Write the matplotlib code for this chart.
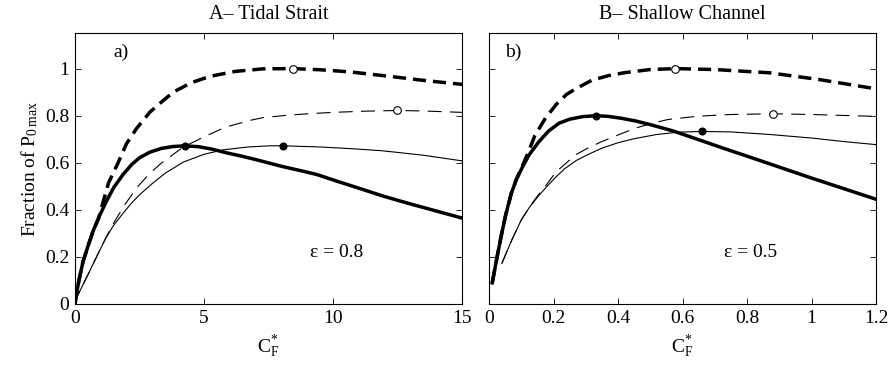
import matplotlib
matplotlib.use('Agg')
import matplotlib.pyplot as plt

plt.rcParams['font.family'] = ['Liberation Serif', 'DejaVu Serif']
plt.rcParams['mathtext.fontset'] = 'custom'
plt.rcParams['mathtext.rm'] = 'Liberation Serif'
plt.rcParams['mathtext.it'] = 'Liberation Serif:italic'
plt.rcParams['lines.scale_dashes'] = False

# ---- Panel A: Tidal Strait (eps = 0.8) ----
a_thick_solid_x = [0, 0.05, 0.15, 0.31, 0.5, 0.70, 0.95, 1.21, 1.5, 1.86, 2.2, 2.51, 2.9, 3.35, 3.8, 4.26,
                   4.8, 5.3, 5.88, 6.5, 7.2, 8.0, 8.8, 9.37, 10.2, 11.0, 11.95, 13.0, 14.0, 15]
a_thick_solid_y = [0, 0.04, 0.1, 0.18, 0.245, 0.31, 0.375, 0.435, 0.495, 0.55, 0.593, 0.622, 0.645, 0.661, 0.669, 0.672,
                   0.668, 0.658, 0.642, 0.627, 0.608, 0.585, 0.565, 0.55, 0.52, 0.492, 0.458, 0.425, 0.395, 0.365]
a_thick_dash_x = [0, 0.05, 0.15, 0.31, 0.5, 0.70, 0.9, 1.08, 1.3, 1.67, 1.99, 2.38, 2.9, 3.35, 3.81, 4.5, 5.23,
                  6.2, 7.29, 8.46, 9.5, 10.66, 12.2, 13.5, 15]
a_thick_dash_y = [0, 0.04, 0.1, 0.18, 0.245, 0.31, 0.36, 0.43, 0.515, 0.6, 0.68, 0.745, 0.815, 0.858, 0.9, 0.94, 0.967,
                  0.988, 0.999, 1.0, 0.995, 0.986, 0.967, 0.95, 0.933]
a_thin_solid_x = [0, 0.05, 0.3, 0.57, 0.9, 1.21, 1.5, 1.86, 2.2, 2.51, 3.03, 3.5, 4.2, 5.0, 5.75, 6.7, 7.56,
                  8.05, 9.5, 10.7, 11.9, 13.5, 15]
a_thin_solid_y = [0, 0.025, 0.08, 0.14, 0.215, 0.283, 0.335, 0.385, 0.43, 0.465, 0.515, 0.556, 0.603, 0.636, 0.655,
                  0.667, 0.672, 0.672, 0.667, 0.66, 0.651, 0.632, 0.608]
a_thin_dash_x = [0, 0.05, 0.3, 0.57, 0.9, 1.21, 1.5, 1.95, 2.4, 2.9, 3.35, 4.2, 5.0, 5.8, 6.78, 7.3, 8.07,
                 9.0, 10.0, 11.2, 12.47, 13.5, 15]
a_thin_dash_y = [0, 0.025, 0.08, 0.14, 0.215, 0.285, 0.345, 0.425, 0.495, 0.555, 0.599, 0.667, 0.71, 0.75, 0.78,
                 0.792, 0.80, 0.808, 0.814, 0.819, 0.822, 0.82, 0.814]
a_dots_x = [4.26, 8.05]
a_dots_y = [0.672, 0.672]
a_circles_x = [8.46, 12.47]
a_circles_y = [1.0, 0.822]

# ---- Panel B: Shallow Channel (eps = 0.5) ----
b_thick_solid_x = [0.01, 0.025, 0.038, 0.052, 0.069, 0.085, 0.103, 0.125, 0.155, 0.185, 0.217, 0.25, 0.29, 0.332,
                   0.37, 0.41, 0.453, 0.50, 0.571, 0.65, 0.726, 0.80, 0.882, 1.0, 1.1, 1.2]
b_thick_solid_y = [0.09, 0.2, 0.29, 0.38, 0.47, 0.53, 0.58, 0.635, 0.69, 0.735, 0.768, 0.785, 0.796, 0.80,
                   0.797, 0.789, 0.778, 0.762, 0.735, 0.698, 0.662, 0.628, 0.590, 0.535, 0.49, 0.445]
b_thick_dash_x = [0.01, 0.025, 0.038, 0.052, 0.069, 0.085, 0.103, 0.122, 0.142, 0.175, 0.21, 0.24, 0.27, 0.318,
                  0.37, 0.422, 0.50, 0.577, 0.70, 0.871, 1.026, 1.2]
b_thick_dash_y = [0.09, 0.2, 0.29, 0.38, 0.47, 0.53, 0.585, 0.645, 0.715, 0.79, 0.85, 0.89, 0.915, 0.95,
                  0.97, 0.983, 0.996, 1.0, 0.996, 0.982, 0.953, 0.914]
b_thin_solid_x = [0.04, 0.07, 0.10, 0.125, 0.152, 0.18, 0.204, 0.235, 0.271, 0.31, 0.35, 0.40, 0.453, 0.52, 0.587,
                  0.66, 0.75, 0.871, 1.0, 1.1, 1.2]
b_thin_solid_y = [0.173, 0.27, 0.357, 0.41, 0.457, 0.5, 0.535, 0.575, 0.61, 0.637, 0.662, 0.685, 0.703, 0.72, 0.73,
                  0.733, 0.731, 0.72, 0.705, 0.69, 0.677]
b_thin_dash_x = [0.04, 0.07, 0.10, 0.125, 0.152, 0.18, 0.207, 0.24, 0.27, 0.31, 0.35, 0.40, 0.45, 0.50, 0.556,
                 0.65, 0.75, 0.88, 1.0, 1.2]
b_thin_dash_y = [0.173, 0.27, 0.357, 0.412, 0.462, 0.51, 0.56, 0.6, 0.635, 0.665, 0.69, 0.718, 0.745, 0.766, 0.784,
                 0.798, 0.805, 0.808, 0.805, 0.797]
b_dots_x = [0.332, 0.66]
b_dots_y = [0.80, 0.733]
b_circles_x = [0.577, 0.88]
b_circles_y = [1.0, 0.808]

fig = plt.figure(figsize=(8.88, 3.67), dpi=100)
ax1 = fig.add_axes([0.0845, 0.1717, 0.4358, 0.7376])
ax2 = fig.add_axes([0.5507, 0.1717, 0.4358, 0.7376])

thick_dash = (9.5, 5)
thin_dash = (10, 6)


def draw(ax, ts, td, ns, nd, dots, circs):
    ax.plot(td[0], td[1], color='k', lw=2.5, dashes=thick_dash, dash_capstyle='butt')
    ax.plot(nd[0], nd[1], color='k', lw=0.8, dashes=thin_dash)
    ax.plot(ts[0], ts[1], color='k', lw=2.5, solid_joinstyle='round')
    ax.plot(ns[0], ns[1], color='k', lw=0.8)
    ax.plot(dots[0], dots[1], 'o', color='k', ms=4.8, zorder=5)
    ax.plot(circs[0], circs[1], 'o', mfc='white', mec='k', mew=0.8, ms=5.5, zorder=5)
    ax.tick_params(direction='in', top=True, right=True, length=4, width=0.6, labelsize=14, pad=4)
    for s in ax.spines.values():
        s.set_linewidth(0.8)
    ax.set_ylim(0, 1.15)
    ax.set_yticks([0, 0.2, 0.4, 0.6, 0.8, 1])


draw(ax1, (a_thick_solid_x, a_thick_solid_y), (a_thick_dash_x, a_thick_dash_y),
     (a_thin_solid_x, a_thin_solid_y), (a_thin_dash_x, a_thin_dash_y),
     (a_dots_x, a_dots_y), (a_circles_x, a_circles_y))
draw(ax2, (b_thick_solid_x, b_thick_solid_y), (b_thick_dash_x, b_thick_dash_y),
     (b_thin_solid_x, b_thin_solid_y), (b_thin_dash_x, b_thin_dash_y),
     (b_dots_x, b_dots_y), (b_circles_x, b_circles_y))

ax1.set_xlim(0, 15)
ax1.set_xticks([0, 5, 10, 15])
ax1.set_yticklabels(['0', '0.2', '0.4', '0.6', '0.8', '1'])
ax2.set_xlim(0, 1.2)
ax2.set_xticks([0, 0.2, 0.4, 0.6, 0.8, 1, 1.2])
ax2.set_xticklabels(['0', '0.2', '0.4', '0.6', '0.8', '1', '1.2'])
ax2.set_yticklabels([])

ax1.set_title('A\u2013 Tidal Strait', fontsize=14.5, pad=10)
ax2.set_title('B\u2013 Shallow Channel', fontsize=14.5, pad=10)
ax1.set_ylabel(r'Fraction of P$_{\rm 0\,max}$', fontsize=14, labelpad=4)
ax1.set_xlabel(r'C$_{\rm F}^{*}$', fontsize=14, labelpad=5)
ax2.set_xlabel(r'C$_{\rm F}^{*}$', fontsize=14, labelpad=5)

ax1.text(1.8, 1.07, 'a)', fontsize=14, ha='center', va='center')
ax2.text(0.075, 1.07, 'b)', fontsize=14, ha='center', va='center')
ax1.text(10.15, 0.22, '\u03b5 = 0.8', fontsize=14, ha='center', va='center')
ax2.text(0.81, 0.22, '\u03b5 = 0.5', fontsize=14, ha='center', va='center')

fig.savefig('out.png', dpi=100)
